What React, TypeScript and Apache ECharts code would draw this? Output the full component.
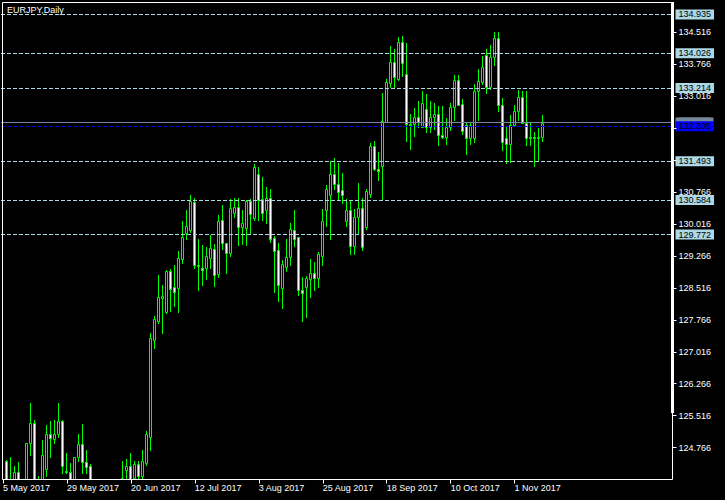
import React, { useEffect, useRef } from "react";
import * as echarts from "echarts";

// Trading days shown on the chart (one daily bar each)
const DATES: string[] = [
  "5 May 2017", "8 May 2017", "9 May 2017", "10 May 2017", "11 May 2017", "12 May 2017",
  "15 May 2017", "16 May 2017", "17 May 2017", "18 May 2017", "19 May 2017",
  "22 May 2017", "23 May 2017", "24 May 2017", "25 May 2017", "26 May 2017",
  "29 May 2017", "30 May 2017", "31 May 2017", "1 Jun 2017", "2 Jun 2017",
  "5 Jun 2017", "6 Jun 2017", "7 Jun 2017", "8 Jun 2017", "9 Jun 2017",
  "12 Jun 2017", "13 Jun 2017", "14 Jun 2017", "15 Jun 2017", "16 Jun 2017",
  "19 Jun 2017", "20 Jun 2017", "21 Jun 2017", "22 Jun 2017", "23 Jun 2017",
  "26 Jun 2017", "27 Jun 2017", "28 Jun 2017", "29 Jun 2017", "30 Jun 2017",
  "3 Jul 2017", "4 Jul 2017", "5 Jul 2017", "6 Jul 2017", "7 Jul 2017",
  "10 Jul 2017", "11 Jul 2017", "12 Jul 2017", "13 Jul 2017", "14 Jul 2017",
  "17 Jul 2017", "18 Jul 2017", "19 Jul 2017", "20 Jul 2017", "21 Jul 2017",
  "24 Jul 2017", "25 Jul 2017", "26 Jul 2017", "27 Jul 2017", "28 Jul 2017",
  "31 Jul 2017", "1 Aug 2017", "2 Aug 2017", "3 Aug 2017", "4 Aug 2017",
  "7 Aug 2017", "8 Aug 2017", "9 Aug 2017", "10 Aug 2017", "11 Aug 2017",
  "14 Aug 2017", "15 Aug 2017", "16 Aug 2017", "17 Aug 2017", "18 Aug 2017",
  "21 Aug 2017", "22 Aug 2017", "23 Aug 2017", "24 Aug 2017", "25 Aug 2017",
  "28 Aug 2017", "29 Aug 2017", "30 Aug 2017", "31 Aug 2017", "1 Sep 2017",
  "4 Sep 2017", "5 Sep 2017", "6 Sep 2017", "7 Sep 2017", "8 Sep 2017",
  "11 Sep 2017", "12 Sep 2017", "13 Sep 2017", "14 Sep 2017", "15 Sep 2017",
  "18 Sep 2017", "19 Sep 2017", "20 Sep 2017", "21 Sep 2017", "22 Sep 2017",
  "25 Sep 2017", "26 Sep 2017", "27 Sep 2017", "28 Sep 2017", "29 Sep 2017",
  "2 Oct 2017", "3 Oct 2017", "4 Oct 2017", "5 Oct 2017", "6 Oct 2017",
  "9 Oct 2017", "10 Oct 2017", "11 Oct 2017", "12 Oct 2017", "13 Oct 2017",
  "16 Oct 2017", "17 Oct 2017", "18 Oct 2017", "19 Oct 2017", "20 Oct 2017",
  "23 Oct 2017", "24 Oct 2017", "25 Oct 2017", "26 Oct 2017", "27 Oct 2017",
  "30 Oct 2017", "31 Oct 2017", "1 Nov 2017", "2 Nov 2017", "3 Nov 2017",
  "6 Nov 2017", "7 Nov 2017", "8 Nov 2017", "9 Nov 2017", "10 Nov 2017",
];

const OPEN: number[] = [
  123.30, 124.45, 123.55, 123.85, 124.20, 123.80, 123.70, 124.87, 125.35, 123.75,
  123.90, 124.26, 125.08, 124.97, 125.08, 125.39, 124.21, 124.19, 123.80, 124.54,
  124.85, 124.42, 124.33, 123.60, 123.70, 123.50, 123.40, 123.20, 123.30, 122.70,
  123.60, 124.24, 124.34, 124.06, 124.38, 124.10, 124.41, 125.02, 127.30, 127.74,
  128.29, 127.96, 128.91, 128.54, 128.52, 129.20, 129.81, 129.88, 130.54, 129.06,
  128.98, 128.99, 129.22, 129.44, 128.85, 130.11, 129.56, 129.34, 130.28, 130.41,
  129.95, 129.93, 130.55, 130.15, 131.20, 130.60, 130.35, 130.62, 129.68, 129.40,
  128.52, 129.00, 129.23, 129.87, 129.70, 128.47, 128.53, 128.72, 128.87, 128.76,
  129.27, 130.35, 130.70, 131.20, 130.96, 130.82, 130.08, 130.35, 129.50, 130.18,
  130.40, 129.94, 130.72, 131.84, 131.32, 131.39, 132.42, 133.34, 133.83, 133.42,
  134.28, 133.53, 132.36, 132.36, 132.52, 132.30, 132.71, 132.29, 132.52, 132.59,
  132.11, 132.05, 132.30, 132.77, 133.40, 132.84, 132.34, 132.04, 132.03, 133.14,
  133.35, 133.99, 133.23, 133.95, 134.38, 132.80, 132.04, 131.89, 132.34, 132.68,
  132.99, 132.38, 132.04, 132.07, 132.03, 132.07,
];

const CLOSE: number[] = [
  123.70, 123.60, 123.85, 124.20, 123.80, 123.60, 124.88, 125.35, 123.90, 123.90,
  124.59, 125.08, 124.99, 125.08, 125.39, 124.33, 124.19, 123.80, 124.55, 124.85,
  124.42, 124.32, 123.60, 123.70, 123.50, 123.60, 123.20, 123.30, 122.70, 123.60,
  124.04, 124.34, 123.95, 124.38, 124.10, 124.45, 125.09, 127.35, 127.78, 128.31,
  128.33, 128.91, 128.50, 128.43, 129.22, 129.70, 129.98, 130.56, 129.05, 129.02,
  128.93, 129.26, 129.45, 128.81, 130.09, 129.58, 129.34, 130.39, 130.41, 129.95,
  130.04, 130.56, 130.26, 131.35, 130.57, 130.27, 130.62, 129.66, 129.39, 128.58,
  129.07, 129.23, 129.89, 129.67, 128.46, 128.40, 128.76, 128.86, 128.76, 129.31,
  130.08, 130.84, 131.20, 130.96, 130.78, 130.69, 130.35, 129.50, 130.18, 130.40,
  129.48, 130.79, 131.84, 131.32, 131.25, 132.43, 133.36, 133.83, 133.46, 134.28,
  133.79, 132.36, 132.34, 132.52, 132.41, 132.85, 132.29, 132.52, 132.59, 132.10,
  132.05, 132.30, 132.77, 133.40, 132.81, 132.20, 132.04, 132.34, 133.14, 133.37,
  133.71, 133.23, 133.95, 134.38, 132.80, 131.94, 131.89, 132.34, 132.66, 132.99,
  132.40, 132.04, 132.07, 132.03, 132.07, 132.40,
];

const LOW: number[] = [
  123.10, 123.40, 123.30, 123.70, 123.60, 123.40, 123.60, 124.58, 123.70, 123.20,
  123.80, 124.10, 124.55, 124.88, 125.02, 124.17, 124.18, 123.60, 123.70, 124.46,
  124.18, 124.18, 123.40, 123.20, 123.30, 123.10, 122.90, 122.90, 122.40, 122.40,
  123.50, 123.90, 123.80, 123.90, 123.95, 123.90, 124.36, 124.71, 127.10, 127.69,
  127.45, 127.93, 127.98, 128.08, 127.96, 129.11, 129.67, 129.84, 128.98, 128.46,
  128.58, 128.73, 128.98, 128.55, 128.78, 129.44, 128.87, 129.26, 130.19, 129.52,
  129.54, 129.52, 129.81, 130.10, 130.10, 130.10, 130.05, 129.60, 128.43, 128.22,
  128.04, 128.92, 129.05, 129.50, 128.35, 127.75, 127.83, 128.31, 128.47, 128.53,
  129.06, 129.97, 129.66, 130.84, 130.58, 130.52, 129.98, 129.31, 129.31, 129.78,
  129.41, 129.91, 130.65, 131.28, 131.05, 130.59, 132.41, 133.24, 133.24, 133.39,
  133.49, 131.96, 131.78, 132.09, 132.30, 132.30, 132.18, 132.18, 132.25, 131.87,
  132.04, 131.89, 132.22, 132.46, 132.80, 132.14, 131.66, 131.89, 131.94, 132.46,
  133.31, 133.09, 133.19, 133.75, 132.66, 131.76, 131.45, 131.48, 132.34, 132.46,
  132.38, 131.87, 131.87, 131.39, 131.52, 131.96,
];

const HIGH: number[] = [
  123.90, 124.47, 124.55, 124.34, 124.43, 123.95, 124.88, 125.81, 125.41, 124.10,
  124.95, 125.30, 125.39, 125.42, 125.81, 125.42, 124.64, 124.40, 124.55, 125.09,
  125.32, 124.71, 124.38, 123.95, 123.90, 123.95, 123.70, 123.60, 123.60, 123.80,
  124.45, 124.50, 124.64, 124.45, 124.45, 124.71, 125.16, 127.45, 127.85, 128.82,
  128.59, 128.94, 128.96, 129.05, 129.38, 130.08, 130.35, 130.69, 130.62, 129.66,
  129.52, 129.47, 129.75, 129.54, 130.23, 130.47, 129.57, 130.61, 130.63, 130.62,
  130.35, 130.58, 130.60, 131.42, 131.35, 131.12, 130.88, 130.84, 129.73, 129.56,
  129.17, 129.66, 130.04, 130.35, 129.72, 128.78, 128.80, 129.20, 129.12, 129.35,
  130.38, 130.93, 131.50, 131.57, 131.45, 131.22, 130.61, 130.58, 130.36, 130.97,
  130.62, 130.85, 131.91, 131.97, 131.71, 133.10, 133.42, 134.19, 134.12, 134.40,
  134.43, 134.26, 132.61, 132.75, 132.90, 133.14, 133.08, 132.90, 132.85, 132.79,
  132.79, 132.50, 132.87, 133.52, 133.52, 132.96, 132.40, 132.40, 133.30, 133.65,
  133.97, 134.13, 134.21, 134.52, 134.52, 132.97, 132.30, 132.57, 132.80, 133.17,
  133.14, 133.14, 132.42, 132.18, 132.26, 132.57,
];

// Pivot-style horizontal levels drawn across the chart
const LEVELS: number[] = [134.935, 134.026, 133.214, 131.493, 130.584, 129.772];
const PIVOT = 132.305;

// Price axis: ticks every 0.75 counted from the bottom of the window
const Y_MIN = 124.016;
const Y_MAX = 135.266;
const Y_STEP = 0.75;
const HIDDEN_TICK_LABELS: string[] = ["131.516", "132.266"];

const TOTAL_SLOTS = 168; // bar slots in the visible window (incl. empty right margin)
const LABEL_EVERY = 16;
const TITLE = "EURJPY,Daily";

const FONT = "Liberation Sans";
const WICK = "#00ff00";
const BULL_FILL = "#000000";
const BEAR_FILL = "#ffffff";

export default function App() {
  const ref = useRef<HTMLDivElement>(null);

  useEffect(() => {
    const el = ref.current;
    if (!el) return;
    const chart = echarts.init(el, undefined, { renderer: "svg", width: 725, height: 500 });

    const cats = [...DATES, ...Array(TOTAL_SLOTS - DATES.length).fill("")];
    const bars = DATES.map((_, i) => [i, OPEN[i], CLOSE[i], LOW[i], HIGH[i]]);
    const bid = CLOSE[CLOSE.length - 1];
    const showEvery = (i: number, v: string) => i % LABEL_EVERY === 0 && v !== "";

    const levelLine = (v: number, color: string, type: any, bg: string, fg: string) => ({
      yAxis: v,
      lineStyle: { color, type, width: 1 },
      label: {
        show: true,
        position: "end",
        distance: 3,
        formatter: v.toFixed(3),
        color: fg,
        backgroundColor: bg,
        padding: [1, 3, 0, 3],
        lineHeight: 9,
        fontSize: 9,
        fontFamily: FONT,
      },
    });

    // bid line: solid grey line with a grey tag mostly hidden under the pivot tag
    const bidLine = {
      yAxis: bid,
      lineStyle: { color: "#778899", type: "solid", width: 1 },
      label: {
        show: true,
        position: "end",
        distance: 3,
        formatter: "{b|}",
        rich: { b: { width: 32, height: 10, backgroundColor: "#778899" } },
        padding: [0, 3, 0, 3],
        backgroundColor: "#778899",
      },
    };

    const renderCandle = (params: any, api: any) => {
      const i = api.value(0);
      const o = api.value(1);
      const c = api.value(2);
      const lo = api.value(3);
      const hi = api.value(4);
      const pO = api.coord([i, o]);
      const yC = api.coord([i, c])[1];
      const yL = api.coord([i, lo])[1];
      const yH = api.coord([i, hi])[1];
      const px = Math.floor(pO[0]);
      const top = Math.round(Math.min(pO[1], yC));
      const bot = Math.round(Math.max(pO[1], yC));
      const bull = c >= o;
      return {
        type: "group",
        children: [
          {
            type: "line",
            shape: { x1: px + 0.5, y1: Math.round(yH), x2: px + 0.5, y2: Math.round(yL) + 1 },
            style: { stroke: WICK, lineWidth: 1 },
          },
          {
            type: "rect",
            shape: { x: px - 0.5, y: top + 0.5, width: 2, height: Math.max(bot - top, 0) },
            style: { fill: bull ? BULL_FILL : BEAR_FILL, stroke: WICK, lineWidth: 1 },
          },
        ],
      };
    };

    chart.setOption({
      animation: false,
      backgroundColor: "#000000",
      grid: { left: 0.5, right: 52.5, top: 0.5, bottom: 20.5 },
      xAxis: {
        type: "category",
        data: cats,
        boundaryGap: true,
        z: 10,
        axisLine: { show: false },
        axisTick: {
          show: true,
          alignWithLabel: true,
          interval: showEvery,
          length: 4,
          lineStyle: { color: "#ffffff", width: 1 },
        },
        axisLabel: {
          interval: showEvery,
          align: "left",
          color: "#ffffff",
          fontSize: 9,
          fontFamily: FONT,
          margin: 4,
        },
        splitLine: { show: false },
      },
      yAxis: {
        type: "value",
        position: "right",
        min: Y_MIN,
        max: Y_MAX,
        interval: Y_STEP,
        z: 10,
        axisLine: { show: false },
        axisTick: { show: true, length: 4, lineStyle: { color: "#ffffff", width: 1 } },
        axisLabel: {
          color: "#ffffff",
          fontSize: 9,
          lineHeight: 8,
          fontFamily: FONT,
          margin: 6,
          showMinLabel: false,
          showMaxLabel: false,
          formatter: (v: number) => {
            const s = v.toFixed(3);
            return HIDDEN_TICK_LABELS.includes(s) ? "" : s;
          },
        },
        splitLine: { show: false },
      },
      series: [
        {
          type: "custom",
          name: "EURJPY",
          data: bars,
          encode: { x: 0, y: [1, 2, 3, 4] },
          renderItem: renderCandle,
          clip: true,
          z: 2,
          markLine: {
            silent: true,
            symbol: "none",
            animation: false,
            data: [
              ...LEVELS.map((v) => levelLine(v, "#add8e6", [4, 2], "#add8e6", "#000000")),
              bidLine,
              levelLine(PIVOT, "#0000ff", [4, 2], "#0000ff", "#000000"),
            ],
          },
        },
      ],
      graphic: [
        {
          type: "rect",
          z: 5,
          shape: { x: 0, y: 480, width: 725, height: 20 },
          style: { fill: "#000000" },
          silent: true,
        },
        {
          type: "rect",
          z: 6,
          shape: { x: 2.5, y: 2.5, width: 670, height: 477 },
          style: { fill: "none", stroke: "#ffffff", lineWidth: 1 },
          silent: true,
        },
        {
          type: "rect",
          z: 6,
          shape: { x: 671, y: 2, width: 3, height: 411 },
          style: { fill: "#ffffff" },
          silent: true,
        },
        {
          type: "text",
          z: 20,
          left: 6,
          top: 5,
          style: {
            text: TITLE,
            fill: "#ffffff",
            font: `9px '${FONT}'`,
            backgroundColor: "#000000",
            padding: [0, 1, 0, 1],
          },
          silent: true,
        },
      ],
    });

    return () => {
      chart.dispose();
    };
  }, []);

  return (
    <div
      ref={ref}
      style={{ position: "fixed", left: 0, top: 0, width: 725, height: 500, background: "#000" }}
    />
  );
}
